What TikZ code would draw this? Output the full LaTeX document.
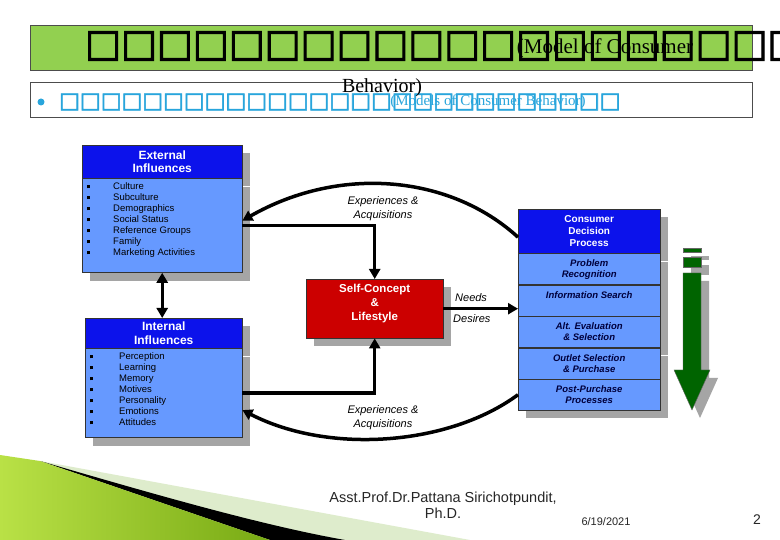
\documentclass[tikz,border=0pt]{standalone}
\usepackage{fontspec}
\setmainfont{Liberation Serif}
\setsansfont{Liberation Sans}
\newfontfamily\boxfont[FakeBold=2.5]{DejaVu Sans}
\usetikzlibrary{arrows.meta,positioning}

\definecolor{hdrblue}{RGB}{12,18,235}
\definecolor{bodyblue}{RGB}{102,153,255}
\definecolor{selfred}{RGB}{204,0,0}
\definecolor{titlegreen}{RGB}{146,208,80}
\definecolor{subblue}{RGB}{40,165,220}
\definecolor{arrowgreen}{RGB}{0,100,0}
\definecolor{stepnavy}{RGB}{0,0,60}
\definecolor{shadowgray}{RGB}{165,165,165}
\definecolor{limegreen}{RGB}{185,225,70}
\definecolor{olivegreen}{RGB}{120,170,20}
\definecolor{palegreen}{RGB}{222,236,204}

\newcommand{\sqbullet}{\rule[1pt]{3pt}{3.5pt}}

\begin{document}
\begin{tikzpicture}[x=1pt,y=-1pt,>={Triangle[length=10pt,width=11pt]},
  hdr/.style={draw=black!80,fill=hdrblue,text=white,align=center,inner sep=0pt,anchor=north west,
    font=\sffamily\bfseries\fontsize{12}{13.5}\selectfont},
  body/.style={draw=black!80,fill=bodyblue,inner sep=0pt,anchor=north west},
  itemlist/.style={anchor=north west,inner sep=0pt,font=\sffamily\fontsize{9.5}{11}\selectfont},
  shadowed/.style={preaction={fill=shadowgray,transform canvas={xshift=8pt,yshift=-8pt}}},
  steprow/.style={draw=black!80,fill=bodyblue,text=stepnavy,align=center,inner sep=0pt,anchor=north,
    minimum width=142pt,minimum height=31pt,font=\sffamily\bfseries\itshape\fontsize{9.5}{11}\selectfont},
  conn/.style={line width=3.5pt},
  lbl/.style={align=center,inner sep=0pt,font=\sffamily\itshape\fontsize{11}{14}\selectfont}]

  \useasboundingbox (0,0) rectangle (780,540);
  \fill[white] (0,0) rectangle (780,540);

  % title bars
  \node[draw=black!70,fill=titlegreen,anchor=north west,inner sep=0pt,
    minimum width=722pt,minimum height=45pt] (title) at (30,25) {};
  \node[anchor=west,inner sep=0pt,font=\boxfont\fontsize{38}{38}\selectfont] (titletofu) at (85,46)
    {□□□□□□□□□□□□□□□□□□□□};
  \node[inner sep=0pt,font=\fontsize{21}{24}\selectfont] (titlemodel) at (605,48) {(Model of Consumer};
  \node[draw=black!70,fill=white,anchor=north west,inner sep=0pt,
    minimum width=722pt,minimum height=35pt] (sub) at (30,82) {};
  \fill[subblue] (41,102) circle (3.5);
  \node[anchor=west,inner sep=0pt,text=subblue,font=\boxfont\fontsize{22}{22}\selectfont] (subtofu) at (59,102)
    {□□□□□□□□□□□□□□□□□□□□□□□□□□□};
  \node[inner sep=0pt,text=subblue,font=\fontsize{15}{18}\selectfont] (submodel) at (488,102) {(Models of Consumer Behavior)};
  \node[inner sep=0pt,font=\fontsize{20}{24}\selectfont] (titlebeh) at (382,88) {Behavior)};

  % external influences
  \node[hdr,shadowed,minimum width=160pt,minimum height=33pt] (exth) at (82,145) {External\\Influences};
  \node[body,shadowed,minimum width=160pt,minimum height=94pt] (extb) at (exth.south west) {};
  \node[itemlist] (extl) at ([xshift=5pt,yshift=-3pt]extb.north west)
    {\begin{tabular}{@{}l@{\hspace{23pt}}l@{}}
      \sqbullet & Culture\\ \sqbullet & Subculture\\ \sqbullet & Demographics\\
      \sqbullet & Social Status\\ \sqbullet & Reference Groups\\ \sqbullet & Family\\
      \sqbullet & Marketing Activities
     \end{tabular}};

  % internal influences
  \node[hdr,shadowed,minimum width=157pt,minimum height=30pt] (inth) at (85,318) {Internal\\Influences};
  \node[body,shadowed,minimum width=157pt,minimum height=89pt] (intb) at (inth.south west) {};
  \node[itemlist] (intl) at ([xshift=5pt,yshift=-3pt]intb.north west)
    {\begin{tabular}{@{}l@{\hspace{26pt}}l@{}}
      \sqbullet & Perception\\ \sqbullet & Learning\\ \sqbullet & Memory\\
      \sqbullet & Motives\\ \sqbullet & Personality\\ \sqbullet & Emotions\\
      \sqbullet & Attitudes
     \end{tabular}};

  % self-concept
  \node[hdr,shadowed,fill=selfred,minimum width=137pt,minimum height=59pt,
    font=\sffamily\bfseries\fontsize{11.5}{14}\selectfont] (self) at (306,279)
    {Self-Concept\\\&\\Lifestyle\\[-1pt]\mbox{}};

  % consumer decision process
  \node[hdr,shadowed,minimum width=142pt,minimum height=44pt,
    font=\sffamily\bfseries\fontsize{10}{12}\selectfont] (cdph) at (518,209) {Consumer\\Decision\\Process};
  \node[steprow,shadowed] (prob) at (cdph.south) {Problem\\Recognition};
  \node[steprow,shadowed] (info) at (prob.south) {Information Search\\\mbox{}};
  \node[steprow,shadowed] (alt) at (info.south) {Alt. Evaluation\\\& Selection};
  \node[steprow,shadowed] (outl) at (alt.south) {Outlet Selection\\\& Purchase};
  \node[steprow,shadowed] (post) at (outl.south) {Post-Purchase\\Processes};

  % labels
  \node[lbl] (exptop) at (383,209) {Experiences \&\\Acquisitions};
  \node[lbl] (expbot) at (383,418) {Experiences \&\\Acquisitions};
  \node[lbl,anchor=west] (needs) at (455,298) {Needs};
  \node[lbl,anchor=west] (desires) at (453,319) {Desires};

  % connectors
  \draw[conn,->] ([yshift=-6pt]cdph.west) .. controls (450,175) and (340,165) .. ([yshift=5pt]extb.east);
  \draw[conn,->] (extb.east) -| (self.north);
  \draw[conn,->] (intb.east) -| (self.south);
  \draw[conn,->] (post.west) .. controls (450,445) and (330,455) .. ([yshift=-17pt]intb.east);
  \draw[conn,->] (self.east) -- (self.east -| info.west);
  \draw[line width=3pt,<->] (extb.south) -- (extb.south |- inth.north);

  % green arrow
  \filldraw[shadowed,fill=arrowgreen,draw=black!60] (683,248) rectangle (701,252);
  \filldraw[shadowed,fill=arrowgreen,draw=black!60] (683,257) rectangle (701,267);
  \filldraw[shadowed,fill=arrowgreen,draw=black!60] (683,273) -- (701,273) -- (701,370) -- (710,370)
    -- (692,410) -- (674,370) -- (683,370) -- cycle;

  % corner decoration
  \fill[palegreen] (40,461) -- (470,540) -- (270,540) -- cycle;
  \fill[black] (40,461) .. controls (150,493) and (260,525) .. (345,540) -- (270,540) -- cycle;
  \shade[left color=limegreen,right color=olivegreen] (0,455) -- (40,461) -- (270,540) -- (0,540) -- cycle;

  % footer
  \node[align=center,inner sep=0pt,text=black!85,font=\sffamily\fontsize{14.5}{16}\selectfont] (author) at (443,505)
    {Asst.Prof.Dr.Pattana Sirichotpundit,\\Ph.D.};
  \node[inner sep=0pt,text=black!85,font=\sffamily\fontsize{11}{13}\selectfont] (date) at (606,522) {6/19/2021};
  \node[inner sep=0pt,text=black!85,font=\sffamily\fontsize{14}{16}\selectfont] (page) at (757,520) {2};
\end{tikzpicture}
\end{document}
